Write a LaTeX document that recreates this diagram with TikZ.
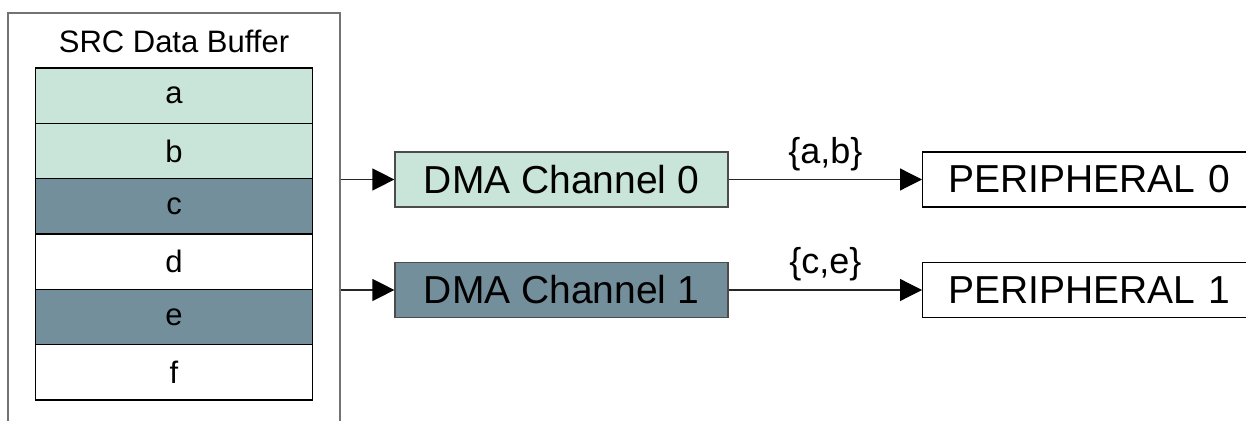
\documentclass[tikz,border=0pt]{standalone}
\usepackage{fontspec}
\setmainfont{Liberation Sans}
\usepackage{tikz}
\usetikzlibrary{arrows.meta}
\definecolor{chgreen}{HTML}{C9E5D9}
\definecolor{chslate}{HTML}{748F9C}

\begin{document}
\begin{tikzpicture}[x=0.5pt,y=-0.5pt,
    cell/.style={draw=black, line width=0.6pt, minimum width=138.5pt, minimum height=27.67pt, inner sep=0pt, font=\fontsize{15.5}{18}\selectfont},
    chan/.style={draw=black!70, line width=0.6pt, minimum width=166.5pt, minimum height=27.5pt, inner sep=0pt, font=\fontsize{19.5}{22}\selectfont},
    periph/.style={draw=black, line width=0.6pt, anchor=west, minimum height=27.5pt, text width=150pt, inner xsep=13pt, inner ysep=0pt, align=left, font=\fontsize{19.5}{22}\selectfont},
    flow/.style={draw=black!85, line width=0.6pt, -{Triangle[length=11pt,width=11pt,color=black]}},
    setlabel/.style={above=4pt, inner sep=0pt, font=\fontsize{18}{20}\selectfont}]
    \useasboundingbox (0,0) rectangle (1246,421);
    \clip (0,0) rectangle (1246,421);

    % Draw source buffer
    \node[draw=black!55, line width=0.6pt, minimum width=166pt, minimum height=215pt, inner sep=0pt] (buffer) at (174,228) {};
    \node[font=\fontsize{15.5}{18}\selectfont] (title) at (174,41) {SRC Data Buffer};

    % Draw buffer cells
    \foreach \lbl/\fil [count=\i] in {a/chgreen,b/chgreen,c/chslate,d/white,e/chslate,f/white}
        \node[cell, fill=\fil] (cell\lbl) at (174,{68+55.33*(\i-0.5)}) {\lbl};

    % Draw channels and peripherals
    \node[chan, fill=chgreen] (chan0) at (561.5,179.5) {DMA Channel 0};
    \node[chan, fill=chslate] (chan1) at (561.5,290) {DMA Channel 1};
    \node[periph] (periph0) at (922,179.5) {PERIPHERAL 0};
    \node[periph] (periph1) at (922,290) {PERIPHERAL 1};

    % Draw transfers
    \draw[flow] (buffer.east |- chan0) -- (chan0);
    \draw[flow] (buffer.east |- chan1) -- (chan1);
    \draw[flow] (chan0) -- node[setlabel] {\{a,b\}} (periph0);
    \draw[flow] (chan1) -- node[setlabel] {\{c,e\}} (periph1);
\end{tikzpicture}
\end{document}
